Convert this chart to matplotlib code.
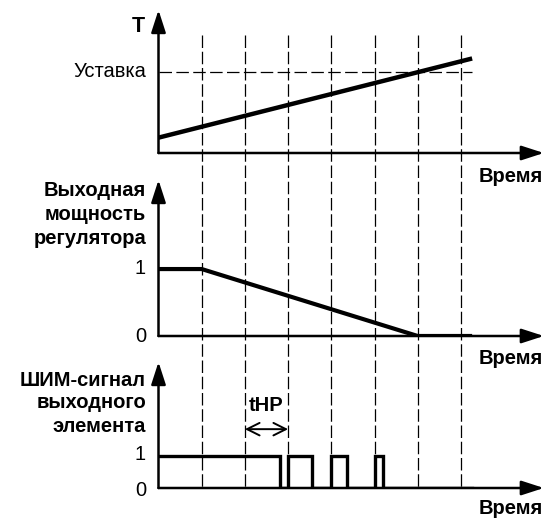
import matplotlib
matplotlib.use("Agg")

import matplotlib.pyplot as plt
from matplotlib.lines import Line2D
import matplotlib.transforms as mtransforms

plt.rcParams['font.family'] = ['Liberation Sans Narrow', 'Liberation Sans', 'DejaVu Sans']

W, H = 547, 519

# time grid (one PWM period per unit)
grid_t = [1, 2, 3, 4, 5, 6, 7]
t_end = 7.26

# temperature panel
temp_t = [0, t_end]
temp_v = [0.19, 1.17]
setpoint = 1.0

# controller output power
power_t = [0, 1, 6, t_end]
power_v = [1, 1, 0, 0]

# PWM signal (step edges)
pwm_t = [0, 2.81, 3.0, 3.55, 4.0, 4.36, 5.0, 5.20, t_end]
pwm_v = [1, 0, 1, 0, 1, 0, 1, 0, 0]

mid_label = ["Выходная", "мощность", "регулятора"]
bot_label = ["ШИМ-сигнал", "выходного", "элемента"]

fig = plt.figure(figsize=(W / 100, H / 100), dpi=100)

x0 = 158.5       # pixel of t = 0
px_per_t = 43.2
xmax = 9.0
FS = 14.5


def make_ax(py_bottom, py_top, ytop):
    ax = fig.add_axes([x0 / W, 1 - py_bottom / H, xmax * px_per_t / W, (py_bottom - py_top) / H])
    ax.set_xlim(0, xmax)
    ax.set_ylim(0, ytop)
    ax.axis("off")
    return ax


def axis_arrows(ax, ytop):
    style = dict(arrowstyle="-|>,head_length=0.68,head_width=0.22", lw=1.8, color="black",
                 mutation_scale=20, shrinkA=0, shrinkB=0)
    ax.annotate("", xy=(8.92, 0), xytext=(0, 0), arrowprops=style, annotation_clip=False)
    ax.annotate("", xy=(0, ytop), xytext=(0, 0), arrowprops=style, annotation_clip=False)


def fx(px):
    return px / W


def fy(py):
    return 1 - py / H


ax1 = make_ax(153, 10, 1.77)
ax2 = make_ax(336, 180, 2.33)
ax3 = make_ax(488, 362, 3.94)

# vertical dashed grid through all three panels
blend = mtransforms.blended_transform_factory(ax1.transData, fig.transFigure)
for t in grid_t:
    fig.add_artist(Line2D([t, t], [fy(35), fy(488)], transform=blend, color="black",
                          lw=0.9, dashes=(10, 3), zorder=1))

# top: temperature
ax1.plot([0, t_end], [setpoint, setpoint], color="black", lw=0.9, dashes=(10, 3.5))
ax1.plot(temp_t, temp_v, color="black", lw=3.2, solid_capstyle="butt", zorder=5)
axis_arrows(ax1, 1.77)

# middle: power
ax2.plot(power_t, power_v, color="black", lw=3.0, solid_capstyle="butt",
         solid_joinstyle="miter", zorder=5)
axis_arrows(ax2, 2.33)

# bottom: PWM
ax3.plot(pwm_t, pwm_v, color="black", lw=2.4, drawstyle="steps-post",
         solid_joinstyle="miter", zorder=5)
axis_arrows(ax3, 3.94)
ax3.annotate("", xy=(2, 1.84), xytext=(3, 1.84),
             arrowprops=dict(arrowstyle="<->,head_length=0.5,head_width=0.25", lw=1.4,
                             color="black", mutation_scale=18, shrinkA=0, shrinkB=0))
ax3.text(2.5, 2.58, "tHP", ha="center", va="center", fontsize=FS, fontweight="bold")

# labels
fig.text(fx(145), fy(27), "T", ha="right", va="center", fontsize=FS + 1, fontweight="bold")
fig.text(fx(146), fy(72), "Уставка", ha="right", va="center", fontsize=FS)
fig.text(fx(146), fy(268), "1", ha="right", va="center", fontsize=FS)
fig.text(fx(146), fy(337), "0", ha="right", va="center", fontsize=FS)
fig.text(fx(146), fy(455), "1", ha="right", va="center", fontsize=FS)
fig.text(fx(146), fy(490), "0", ha="right", va="center", fontsize=FS)
for line, py in zip(mid_label, [190, 214, 238]):
    fig.text(fx(146), fy(py), line, ha="right", va="center", fontsize=FS, fontweight="bold")
for line, py in zip(bot_label, [380, 403, 427]):
    fig.text(fx(146), fy(py), line, ha="right", va="center", fontsize=FS, fontweight="bold")
for py in [177, 359, 509]:
    fig.text(fx(543), fy(py), "Время", ha="right", va="center", fontsize=FS, fontweight="bold")

fig.savefig("out.png", dpi=100)
